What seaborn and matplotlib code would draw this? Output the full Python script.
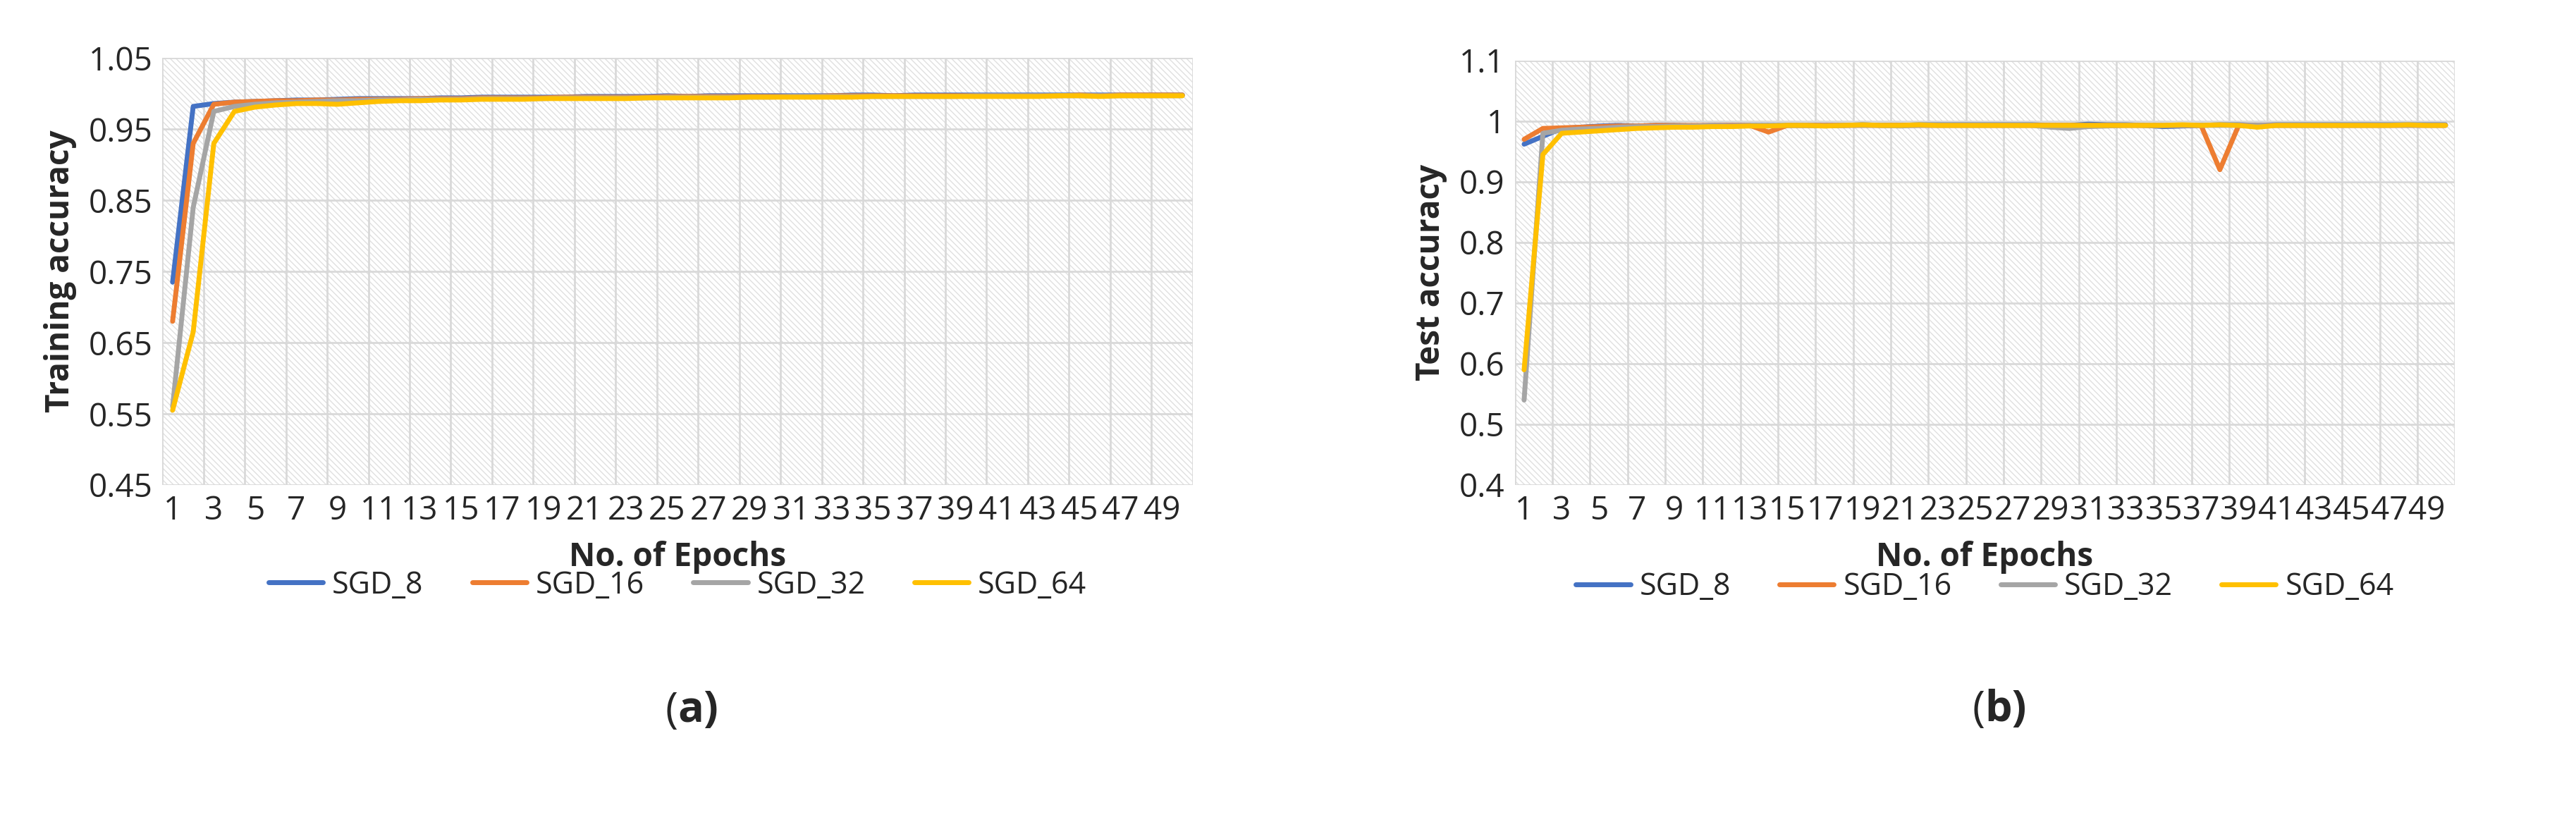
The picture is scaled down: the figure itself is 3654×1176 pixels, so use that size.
import matplotlib
matplotlib.use("Agg")
import matplotlib.pyplot as plt
import seaborn as sns
import pandas as pd
import numpy as np
from matplotlib.patches import Rectangle

sns.set_style("white")
plt.rcParams['font.family'] = ['Open Sans', 'DejaVu Sans']

epochs = list(range(1, 51))
series_names = ["SGD_8", "SGD_16", "SGD_32", "SGD_64"]
colors = ["#4472C4", "#ED7D31", "#A5A5A5", "#FFC000"]

train_sgd8 = [0.735, 0.982, 0.986, 0.988, 0.989, 0.990, 0.991, 0.991, 0.992, 0.993,
              0.993, 0.993, 0.993, 0.994, 0.994, 0.995, 0.995, 0.995, 0.995, 0.995,
              0.996, 0.996, 0.996, 0.996, 0.997, 0.996, 0.997, 0.997, 0.997, 0.997,
              0.997, 0.997, 0.997, 0.998, 0.998, 0.997, 0.998, 0.998, 0.998, 0.998,
              0.998, 0.998, 0.998, 0.998, 0.998, 0.998, 0.998, 0.998, 0.998, 0.998]
train_sgd16 = [0.680, 0.930, 0.985, 0.988, 0.989, 0.990, 0.990, 0.991, 0.991, 0.992,
               0.992, 0.992, 0.993, 0.993, 0.993, 0.994, 0.994, 0.994, 0.994, 0.995,
               0.995, 0.995, 0.995, 0.995, 0.996, 0.996, 0.996, 0.996, 0.996, 0.996,
               0.996, 0.996, 0.997, 0.997, 0.997, 0.997, 0.997, 0.997, 0.997, 0.997,
               0.997, 0.997, 0.997, 0.997, 0.998, 0.997, 0.998, 0.998, 0.998, 0.998]
train_sgd32 = [0.560, 0.840, 0.975, 0.982, 0.985, 0.987, 0.988, 0.989, 0.990, 0.990,
               0.991, 0.991, 0.992, 0.992, 0.992, 0.993, 0.993, 0.993, 0.993, 0.994,
               0.994, 0.994, 0.994, 0.994, 0.995, 0.995, 0.995, 0.995, 0.995, 0.995,
               0.996, 0.996, 0.996, 0.996, 0.996, 0.996, 0.996, 0.996, 0.996, 0.997,
               0.997, 0.997, 0.997, 0.997, 0.997, 0.997, 0.997, 0.997, 0.997, 0.997]
train_sgd64 = [0.555, 0.665, 0.930, 0.975, 0.981, 0.984, 0.986, 0.986, 0.985, 0.987,
               0.989, 0.990, 0.990, 0.991, 0.991, 0.992, 0.992, 0.992, 0.993, 0.993,
               0.993, 0.993, 0.993, 0.994, 0.994, 0.994, 0.994, 0.994, 0.995, 0.995,
               0.995, 0.995, 0.995, 0.995, 0.996, 0.996, 0.996, 0.996, 0.996, 0.996,
               0.996, 0.996, 0.996, 0.997, 0.997, 0.996, 0.997, 0.997, 0.997, 0.997]

test_sgd8 = [0.962, 0.975, 0.988, 0.990, 0.992, 0.993, 0.992, 0.993, 0.993, 0.992,
             0.993, 0.993, 0.993, 0.993, 0.993, 0.993, 0.993, 0.993, 0.994, 0.993,
             0.993, 0.994, 0.994, 0.994, 0.994, 0.994, 0.994, 0.994, 0.993, 0.993,
             0.995, 0.994, 0.994, 0.993, 0.991, 0.992, 0.993, 0.994, 0.994, 0.993,
             0.994, 0.994, 0.994, 0.994, 0.994, 0.994, 0.994, 0.994, 0.994, 0.994]
test_sgd16 = [0.970, 0.988, 0.989, 0.990, 0.991, 0.992, 0.992, 0.993, 0.993, 0.993,
              0.993, 0.993, 0.993, 0.982, 0.993, 0.993, 0.993, 0.993, 0.993, 0.993,
              0.993, 0.993, 0.993, 0.993, 0.993, 0.993, 0.993, 0.993, 0.993, 0.993,
              0.993, 0.993, 0.993, 0.993, 0.993, 0.993, 0.993, 0.920, 0.993, 0.993,
              0.993, 0.993, 0.993, 0.993, 0.993, 0.993, 0.993, 0.993, 0.993, 0.993]
test_sgd32 = [0.540, 0.980, 0.985, 0.987, 0.988, 0.990, 0.991, 0.991, 0.992, 0.992,
              0.993, 0.992, 0.993, 0.993, 0.993, 0.993, 0.992, 0.993, 0.993, 0.993,
              0.992, 0.993, 0.993, 0.993, 0.993, 0.993, 0.993, 0.993, 0.990, 0.988,
              0.991, 0.992, 0.993, 0.993, 0.993, 0.993, 0.993, 0.993, 0.993, 0.993,
              0.993, 0.993, 0.993, 0.993, 0.993, 0.993, 0.993, 0.993, 0.993, 0.993]
test_sgd64 = [0.590, 0.945, 0.980, 0.982, 0.984, 0.986, 0.988, 0.989, 0.990, 0.990,
              0.991, 0.991, 0.992, 0.992, 0.993, 0.993, 0.992, 0.993, 0.994, 0.993,
              0.993, 0.994, 0.993, 0.993, 0.993, 0.993, 0.993, 0.993, 0.993, 0.993,
              0.993, 0.993, 0.993, 0.993, 0.993, 0.994, 0.993, 0.994, 0.993, 0.990,
              0.993, 0.993, 0.993, 0.993, 0.993, 0.993, 0.993, 0.994, 0.993, 0.993]

xtick_labels = [str(e) for e in range(1, 51, 2)]

def long_df(series):
    rows = []
    for name, vals in zip(series_names, series):
        for e, v in zip(epochs, vals):
            rows.append({"Epoch": e, "Accuracy": v, "Series": name})
    return pd.DataFrame(rows)

df_train = long_df([train_sgd8, train_sgd16, train_sgd32, train_sgd64])
df_test = long_df([test_sgd8, test_sgd16, test_sgd32, test_sgd64])

fig = plt.figure(figsize=(36.54, 11.76), dpi=100)
ax1 = fig.add_axes([0.063, 0.415, 0.400, 0.515])
ax2 = fig.add_axes([0.588, 0.415, 0.365, 0.512])

def style(ax, df, ylim, yticks, ylabel, legend_y, letter):
    ax.set_facecolor("white")
    ax.add_patch(Rectangle((0, 0), 1, 1, transform=ax.transAxes, facecolor="none",
                           edgecolor="#e0e0e0", hatch="\\\\\\\\", linewidth=0, zorder=0))
    sns.lineplot(data=df, x="Epoch", y="Accuracy", hue="Series", palette=colors,
                 linewidth=5, ax=ax, legend=True, zorder=3)
    ax.set_xlim(0.5, 50.5)
    ax.set_ylim(*ylim)
    ax.set_yticks(yticks)
    ax.set_yticklabels([f"{t:g}" if letter == "b" else f"{t:.2f}" for t in yticks], fontsize=33)
    ax.set_xticks(range(1, 51, 2))
    ax.set_xticklabels(xtick_labels, fontsize=33)
    for x in np.arange(0.5, 51, 2):
        ax.axvline(x, color="#d9d9d9", lw=2, zorder=1)
    for y in yticks:
        ax.axhline(y, color="#d9d9d9", lw=2, zorder=1)
    for s in ax.spines.values():
        s.set_visible(False)
    ax.tick_params(length=0, pad=10)
    ax.set_xlabel("No. of Epochs", fontsize=33, fontweight="bold", labelpad=14)
    ax.set_ylabel(ylabel, fontsize=33, fontweight="bold", labelpad=12)
    h, l = ax.get_legend_handles_labels()
    ax.legend(h, l, loc="center", bbox_to_anchor=(0.5, legend_y), ncol=4,
              frameon=False, fontsize=31, handlelength=1.8, columnspacing=1.6,
              handletextpad=0.3)
    for lh in ax.get_legend().get_lines():
        lh.set_linewidth(5)
    ax.text(0.5, -0.53, "(", transform=ax.transAxes, fontsize=44, ha="right", va="center")
    ax.text(0.5, -0.53, letter + ")", transform=ax.transAxes, fontsize=44, ha="left",
            va="center", fontweight="bold")

style(ax1, df_train, (0.45, 1.05), [0.45, 0.55, 0.65, 0.75, 0.85, 0.95, 1.05],
      "Training accuracy", -0.235, "a")
style(ax2, df_test, (0.4, 1.1), [0.4, 0.5, 0.6, 0.7, 0.8, 0.9, 1.0, 1.1],
      "Test accuracy", -0.24, "b")

fig.savefig("out.png", dpi=100)
